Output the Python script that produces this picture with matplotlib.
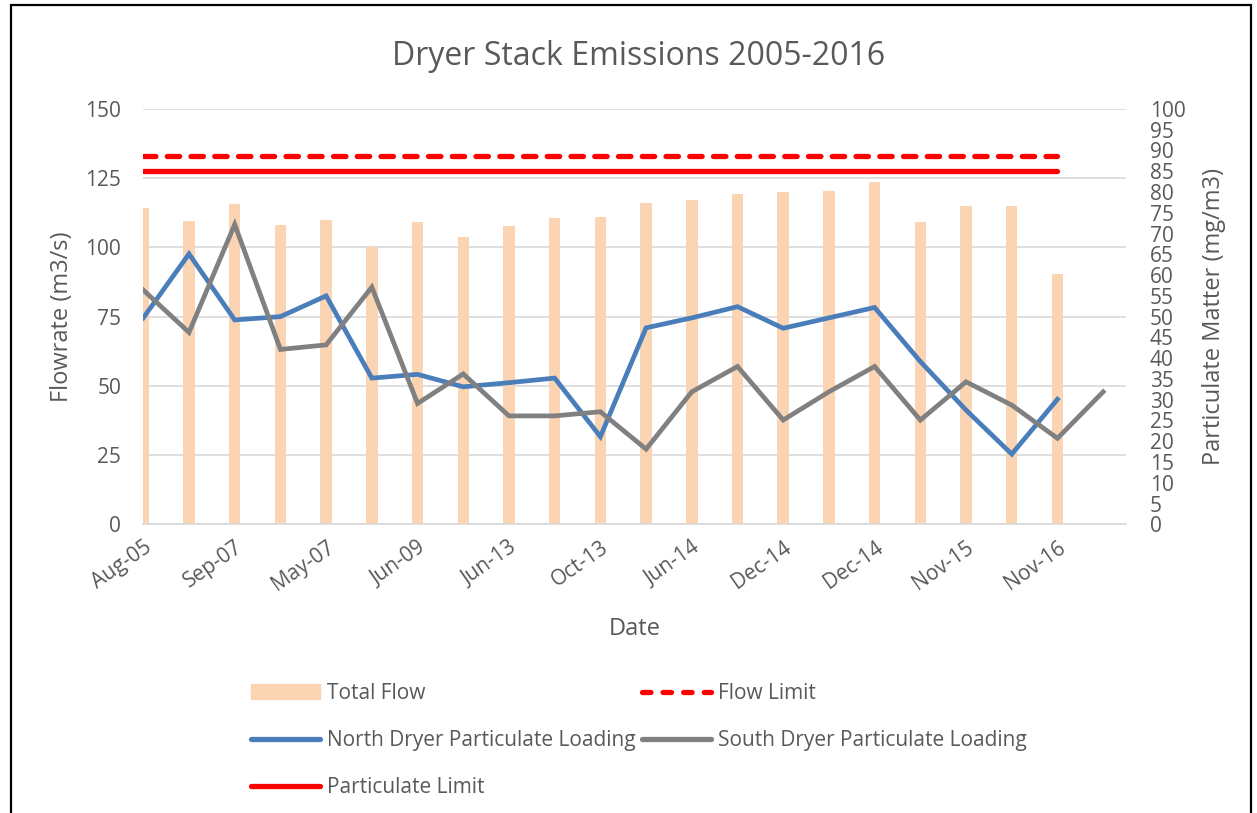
import numpy as np
import matplotlib
matplotlib.use("Agg")
from matplotlib import pyplot as plt
from matplotlib.patches import Patch, Rectangle
from matplotlib.lines import Line2D

plt.rcParams['font.family'] = ['Open Sans', 'DejaVu Sans']

# data
dates = ["Aug-05", "", "Sep-07", "", "May-07", "", "Jun-09", "", "Jun-13", "",
         "Oct-13", "", "Jun-14", "", "Dec-14", "", "Dec-14", "", "Nov-15", "",
         "Nov-16", ""]
total_flow = [114.3, 109.4, 115.8, 108.1, 109.9, 100.1, 109.2, 103.9, 107.6, 110.7,
              111.1, 115.9, 117.0, 119.3, 120.1, 120.4, 123.7, 109.2, 115.0, 115.0, 90.5]
north = [49.7, 65.1, 49.2, 50.0, 55.0, 35.2, 36.1, 33.1, 34.1, 35.2,
         21.1, 47.3, 49.7, 52.4, 47.2, 49.7, 52.2, 39.2, 27.5, 16.9, 30.1]
south = [56.4, 46.2, 72.2, 42.1, 43.2, 57.1, 29.1, 36.2, 26.1, 26.1,
         27.1, 18.1, 31.9, 38.0, 25.1, 31.9, 38.0, 25.1, 34.3, 28.7, 20.7, 31.9]
flow_limit = 133.1       # m3/s
particulate_limit = 85   # mg/m3

txt = '#595959'
c_bar = '#fbd4b4'
c_north = '#4a7ebb'
c_south = '#808080'
c_red = '#ff0000'

fig = plt.figure(figsize=(12.57, 8.13), dpi=100)
ax = fig.add_axes([0.114, 0.3551, 0.7818, 0.5109])
ax2 = ax.twinx()

xb = np.arange(len(total_flow))
xn = np.arange(len(north))
xs = np.arange(len(south))

ax.bar(xb, total_flow, width=0.25, color=c_bar, zorder=2)
ax.plot(xb, [flow_limit] * len(xb), color=c_red, lw=3.8, dashes=(2.35, 2.15),
        dash_capstyle='round', zorder=3)
ax2.plot(xb, [particulate_limit] * len(xb), color=c_red, lw=3.8,
         solid_capstyle='round', zorder=3)
ax2.plot(xn, north, color=c_north, lw=3.4, solid_joinstyle='miter', zorder=4)
ax2.plot(xs, south, color=c_south, lw=3.4, solid_joinstyle='miter', zorder=4)

ax.set_xlim(0, 21.5)
ax.set_ylim(0, 150)
ax2.set_ylim(0, 100)
ax.set_yticks(np.arange(0, 151, 25))
ax2.set_yticks(np.arange(0, 101, 5))
ax.grid(axis='y', color='#d9d9d9', lw=1.2, zorder=0)
ax.set_axisbelow(True)

ax.set_xticks(np.arange(0, len(dates), 2))
ax.set_xticklabels(dates[::2], rotation=35, ha='right', rotation_mode='anchor')

for a in (ax, ax2):
    for s in a.spines.values():
        s.set_visible(False)
    a.tick_params(length=0, colors=txt, labelsize=15)
ax.tick_params(axis='y', pad=16)
ax2.tick_params(axis='y', pad=17)
ax.tick_params(axis='x', pad=9)
ax.spines['bottom'].set_visible(True)
ax.spines['bottom'].set_color('#d9d9d9')
ax.spines['bottom'].set_linewidth(1.2)

ax.set_ylabel("Flowrate (m3/s)", color=txt, fontsize=17, labelpad=8)
ax2.set_ylabel("Particulate Matter (mg/m3)", color=txt, fontsize=17, labelpad=12)
ax.set_xlabel("Date", color=txt, fontsize=17, labelpad=16)
fig.text(0.508, 0.930, "Dryer Stack Emissions 2005-2016", color=txt, fontsize=23,
         ha='center', va='center')

handles = [Patch(color=c_bar),
           Line2D([], [], color=c_north, lw=3.8, solid_capstyle='round'),
           Line2D([], [], color=c_red, lw=3.8, solid_capstyle='round'),
           Line2D([], [], color=c_red, lw=3.8, dashes=(1.6, 2.3), dash_capstyle='round'),
           Line2D([], [], color=c_south, lw=3.8, solid_capstyle='round')]
labels = ["Total Flow", "North Dryer Particulate Loading", "Particulate Limit",
          "Flow Limit", "South Dryer Particulate Loading"]
leg = fig.legend(handles, labels, ncol=2, loc='upper left',
                 bbox_to_anchor=(0.1997, 0.160), bbox_transform=fig.transFigure,
                 frameon=False, fontsize=15, handlelength=3.3, handletextpad=0.35,
                 columnspacing=0.3, labelspacing=1.25, borderpad=0, borderaxespad=0)
for t in leg.get_texts():
    t.set_color(txt)

# chart border
fig.patches.append(Rectangle((11 / 1257, -0.01), (1251 - 11) / 1257, 1.01 - 5 / 813,
                             transform=fig.transFigure, fill=False, ec='black', lw=1.6))

fig.savefig("out.png", dpi=100)
